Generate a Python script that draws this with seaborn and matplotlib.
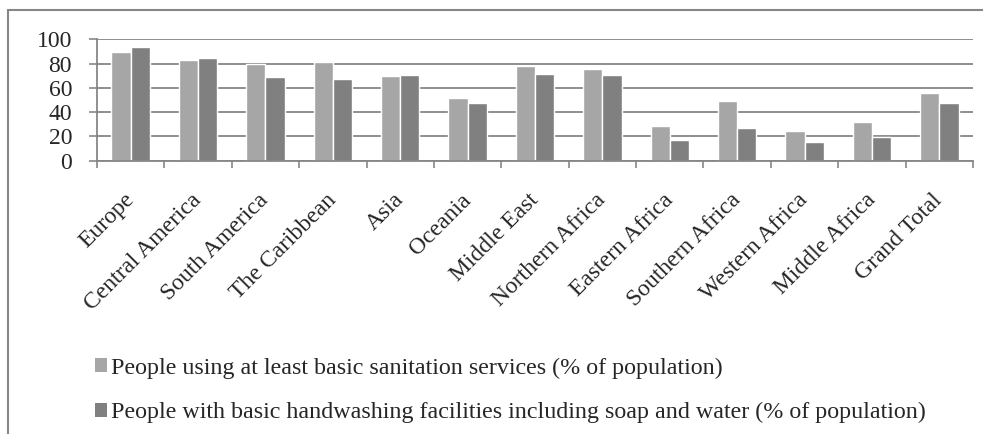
import numpy as np
import pandas as pd
import matplotlib
matplotlib.use('Agg')
import matplotlib.pyplot as plt
from matplotlib.patches import Patch, Rectangle
import seaborn as sns

regions = ['Europe', 'Central America', 'South America', 'The Caribbean', 'Asia',
           'Oceania', 'Middle East', 'Northern Africa', 'Eastern Africa',
           'Southern Africa', 'Western Africa', 'Middle Africa', 'Grand Total']
sanitation = [89.3, 83.0, 79.4, 81.0, 69.8, 51.6, 78.0, 75.3, 28.8, 48.9, 24.5, 32.1, 55.5]
handwashing = [93.7, 84.6, 68.7, 67.5, 70.9, 47.8, 71.4, 70.9, 17.0, 26.7, 15.7, 19.8, 47.3]
series_names = ['People using at least basic sanitation services (% of population)',
                'People with basic handwashing facilities including soap and water (% of population)']
yticks = [0, 20, 40, 60, 80, 100]

df = pd.DataFrame({
    'Region': regions * 2,
    'Value': sanitation + handwashing,
    'Series': [series_names[0]] * len(regions) + [series_names[1]] * len(regions),
})

sns.set_style('white')
plt.rcParams['font.family'] = ['Liberation Serif', 'DejaVu Serif']

colors = ['#A6A6A6', '#808080']
grid_col = '#868686'
fs = 17

fig = plt.figure(figsize=(9.83, 4.34), dpi=100)
ax = fig.add_axes([97 / 983, 1 - 160.7 / 434, 876 / 983, 121.4 / 434])

sns.barplot(data=df, x='Region', y='Value', hue='Series', palette=colors,
            width=0.57, gap=0, ax=ax, legend=False, saturation=1)

ax.set_ylim(0, 100)
ax.set_xlim(-0.5, len(regions) - 0.5)
ax.set_yticks(yticks)
ax.set_yticklabels([str(v) for v in yticks], fontsize=fs)
ax.yaxis.grid(True, color=grid_col, linewidth=1.3)
ax.set_axisbelow(True)
ax.tick_params(axis='y', length=6, width=1.2, color=grid_col, pad=12, left=True)

ax.set_xticks(range(len(regions)))
ax.set_xticklabels(regions, rotation=45, ha='right', va='center',
                   rotation_mode='anchor', fontsize=fs)
ax.set_xticks(np.arange(-0.5, len(regions)), minor=True)
ax.tick_params(axis='x', which='major', length=0, pad=26)
ax.tick_params(axis='x', which='minor', length=5, width=1.2, color=grid_col, bottom=True)
ax.set_xlabel('')
ax.set_ylabel('')

for side in ['top', 'right']:
    ax.spines[side].set_visible(False)
for side in ['left', 'bottom']:
    ax.spines[side].set_color(grid_col)
    ax.spines[side].set_linewidth(1.3)

# outer frame, cut by the image edge on right and bottom
fig.patches.append(Rectangle((8 / 983, -0.2), 1.2, 1.2 - 10 / 434,
                             transform=fig.transFigure, fill=False,
                             edgecolor=grid_col, linewidth=1.5))

handles = [Patch(facecolor=c, edgecolor='none') for c in colors]
fig.legend(handles, series_names, loc='upper left', bbox_to_anchor=(85 / 983, 1 - 348 / 434),
           frameon=False, fontsize=17.3, handlelength=0.5, handleheight=0.5,
           handletextpad=0.2, labelspacing=0.97, borderaxespad=0)

fig.savefig('out.png', dpi=100)
